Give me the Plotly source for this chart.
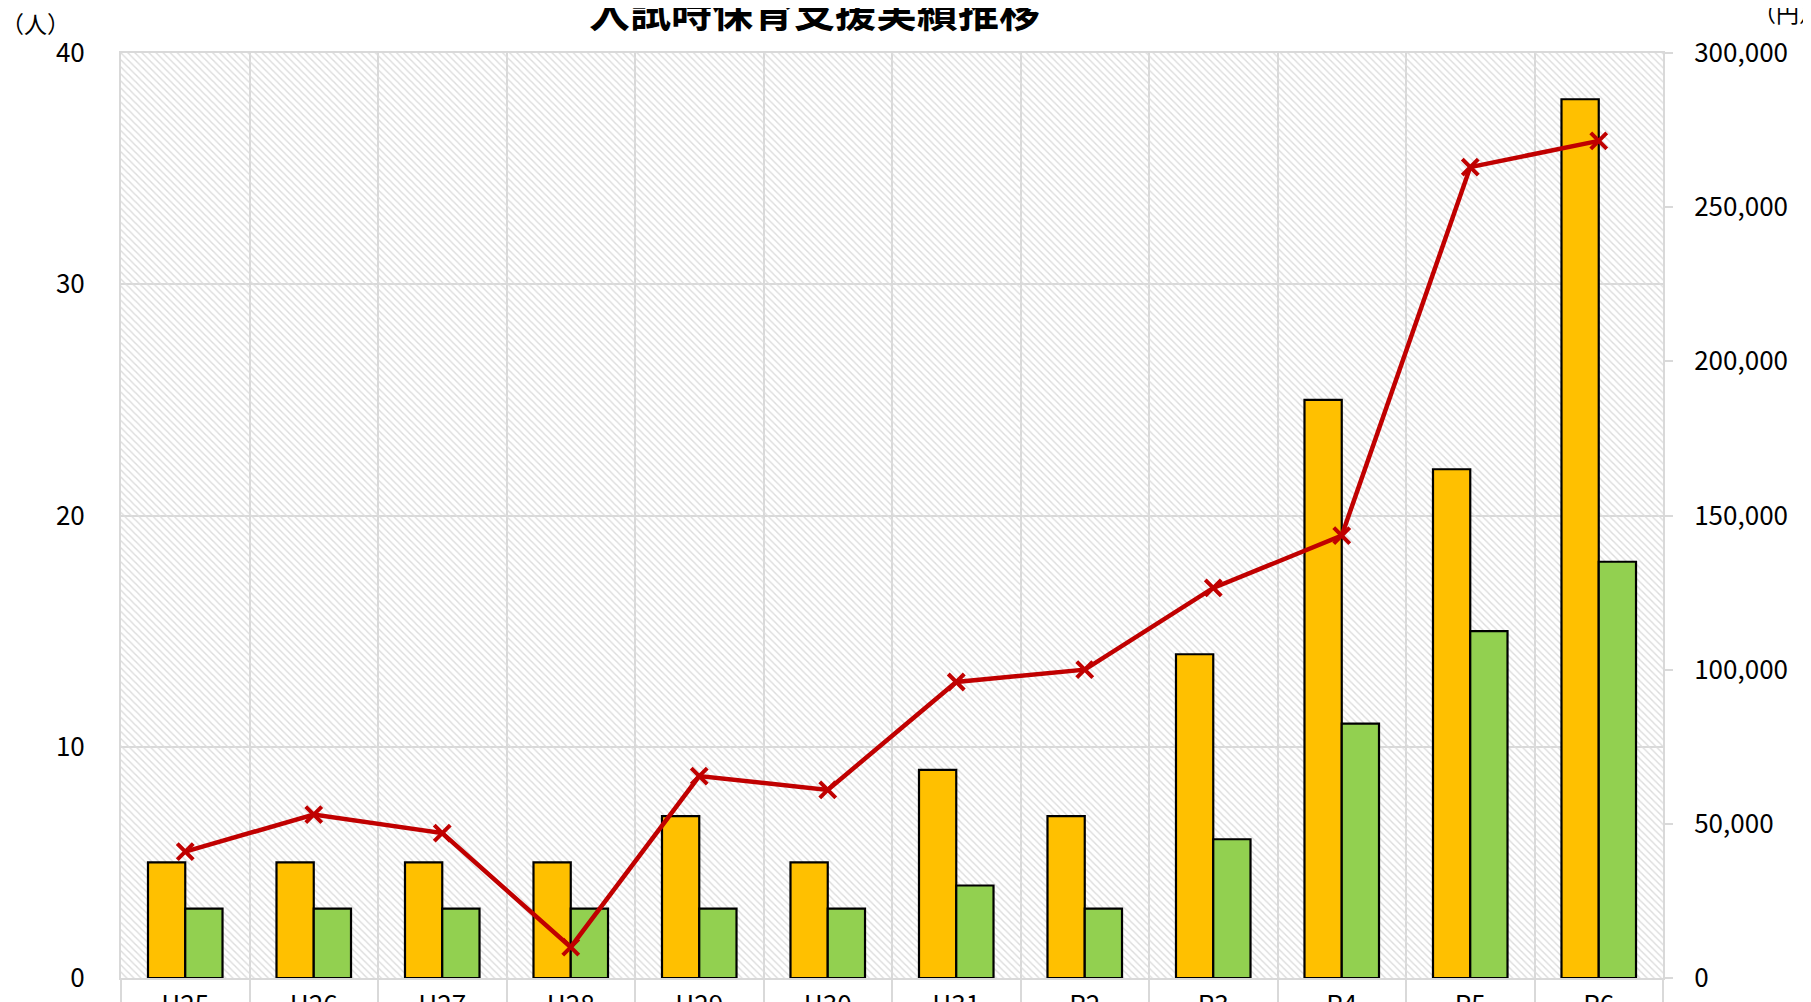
import plotly.graph_objects as go

# ---- data ----
categories = ["H25", "H26", "H27", "H28", "H29", "H30", "H31", "R2", "R3", "R4", "R5", "R6"]
people_a = [5, 5, 5, 5, 7, 5, 9, 7, 14, 25, 22, 38]          # orange bars (人)
people_b = [3, 3, 3, 3, 3, 3, 4, 3, 6, 11, 15, 18]            # green bars (人)
amount_yen = [41000, 53000, 47000, 10000, 65500, 61000, 96000, 100000,
              126500, 143500, 263000, 271500]                  # red line (円)
left_ticks = [0, 10, 20, 30, 40]
right_ticks = [0, 50000, 100000, 150000, 200000, 250000, 300000]
title_text = "入試時保育支援実績推移"

# page body has an 8px margin, so figure coords = screen coords - 8
W, H = 1803, 994
L, R, T, B = 113, 148, 45, 24
PW, PH = W - L - R, H - T - B
FONT = "Noto Sans CJK JP"
GRID = "#d9d9d9"

def px_x(x):
    return (x - L) / PW

def px_y(y):
    return 1 + (T - y) / PH

xs = list(range(len(categories)))
n = len(categories)

fig = go.Figure()

# hatched plot background
fig.add_trace(go.Bar(
    x=[(n - 1) / 2], y=[left_ticks[-1]], width=[n], base=[0],
    marker=dict(color="#dcdcdc", line=dict(width=0),
                pattern=dict(shape="\\", size=5, solidity=0.28, fillmode="replace")),
    hoverinfo="skip", showlegend=False, xaxis="x", yaxis="y",
))

fig.add_trace(go.Bar(
    x=xs, y=people_a, offset=-0.29, width=0.29,
    marker=dict(color="#FFC000", line=dict(color="black", width=2.2)),
    showlegend=False, xaxis="x", yaxis="y",
))
fig.add_trace(go.Bar(
    x=xs, y=people_b, offset=0.0, width=0.29,
    marker=dict(color="#92D050", line=dict(color="black", width=2.2)),
    showlegend=False, xaxis="x", yaxis="y",
))
fig.add_trace(go.Scatter(
    x=xs, y=amount_yen, mode="lines+markers",
    line=dict(color="#C00000", width=4.5),
    marker=dict(symbol="x-thin", size=16, line=dict(color="#C00000", width=4)),
    showlegend=False, xaxis="x", yaxis="y2",
))

fig.update_layout(
    width=W, height=H,
    margin=dict(l=L, r=R, t=T, b=B, autoexpand=False),
    paper_bgcolor="white", plot_bgcolor="white",
    barmode="overlay",
    font=dict(family=FONT, size=26, color="black"),
    xaxis=dict(
        range=[-0.5, n - 0.5], tickmode="array", tickvals=xs, ticktext=categories,
        showgrid=False, zeroline=False, ticks="",
        showline=True, mirror=True, linecolor=GRID, linewidth=2,
        ticklabelstandoff=3,
        minor=dict(tickmode="array", tickvals=[i - 0.5 for i in range(n + 1)],
                   showgrid=True, gridcolor=GRID, gridwidth=2,
                   ticks="outside", ticklen=40, tickcolor=GRID, tickwidth=2),
        fixedrange=True,
    ),
    yaxis=dict(
        range=[left_ticks[0], left_ticks[-1]], tickmode="array", tickvals=left_ticks,
        showgrid=True, gridcolor=GRID, gridwidth=2, zeroline=False,
        showline=True, mirror=True, linecolor=GRID, linewidth=2,
        ticks="", ticklabelstandoff=29,
    ),
    yaxis2=dict(
        range=[right_ticks[0], right_ticks[-1]], tickmode="array", tickvals=right_ticks,
        tickformat=",d", overlaying="y", side="right",
        showgrid=False, zeroline=False, showline=False,
        ticks="outside", ticklen=9, tickcolor=GRID, tickwidth=2,
        ticklabelstandoff=16,
    ),
    annotations=[
        dict(text=f"<b>{title_text}</b>", xref="paper", yref="paper",
             x=px_x(806), y=px_y(1),
             xanchor="center", yanchor="middle", showarrow=False,
             font=dict(family=FONT, size=41, color="black")),
        dict(text="（人）", xref="paper", yref="paper",
             x=px_x(27), y=px_y(15),
             xanchor="center", yanchor="middle", showarrow=False,
             font=dict(family=FONT, size=23, color="black")),
        dict(text="（円）", xref="paper", yref="paper",
             x=px_x(1743), y=px_y(4),
             xanchor="left", yanchor="middle", showarrow=False,
             font=dict(family=FONT, size=23, color="black")),
    ],
)

fig.write_html("out.html")
